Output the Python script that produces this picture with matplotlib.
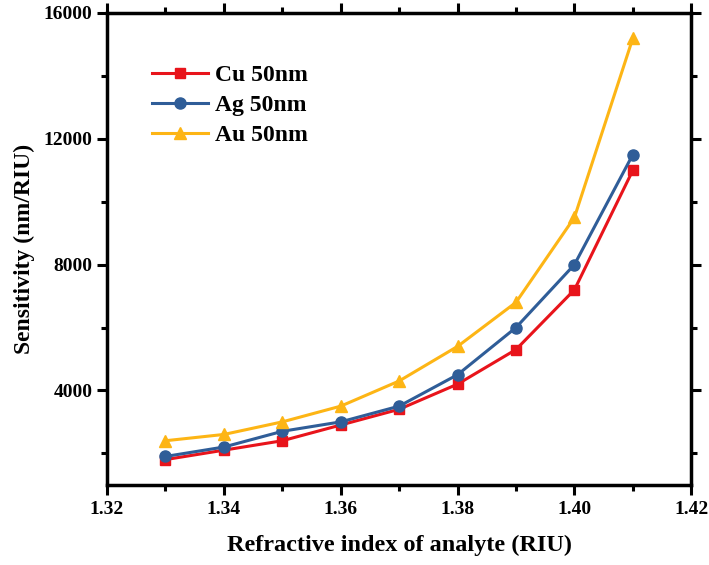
import matplotlib.pyplot as plt
from matplotlib.ticker import MultipleLocator

plt.rcParams['font.family'] = ['Liberation Serif', 'DejaVu Serif']
plt.rcParams['font.weight'] = 'bold'

# data
ri = [1.33, 1.34, 1.35, 1.36, 1.37, 1.38, 1.39, 1.40, 1.41]
cu = [1800, 2100, 2400, 2900, 3400, 4200, 5300, 7200, 11000]
ag = [1900, 2200, 2700, 3000, 3500, 4500, 6000, 8000, 11500]
au = [2400, 2600, 3000, 3500, 4300, 5400, 6800, 9500, 15200]
xticks = [1.32, 1.34, 1.36, 1.38, 1.40, 1.42]
yticks = [4000, 8000, 12000, 16000]

fig = plt.figure(figsize=(7.09, 5.65), dpi=100)
ax = fig.add_axes([0.151, 0.142, 0.824, 0.835])

ax.plot(ri, cu, color='#E8141B', marker='s', ms=7, lw=2.2, label='Cu 50nm')
ax.plot(ri, ag, color='#2F5D98', marker='o', ms=8, lw=2.2, label='Ag 50nm')
ax.plot(ri, au, color='#FDB515', marker='^', ms=8, lw=2.2, label='Au 50nm')

ax.set_xlim(1.32, 1.42)
ax.set_ylim(1000, 16000)
ax.set_xticks(xticks)
ax.set_xticklabels(['%.2f' % v for v in xticks])
ax.xaxis.set_minor_locator(MultipleLocator(0.01))
ax.set_yticks(yticks)
ax.yaxis.set_minor_locator(MultipleLocator(2000))

for s in ax.spines.values():
    s.set_linewidth(2.5)
ax.tick_params(which='both', direction='out', width=2.2, top=True, right=True,
               labelsize=14)
ax.tick_params(which='major', length=7)
ax.tick_params(which='minor', length=4)
ax.tick_params(axis='x', pad=5)
for lab in ax.get_xticklabels() + ax.get_yticklabels():
    lab.set_fontweight('bold')

ax.set_xlabel('Refractive index of analyte (RIU)', fontsize=17.5, fontweight='bold', labelpad=12)
ax.set_ylabel('Sensitivity (nm/RIU)', fontsize=17, fontweight='bold', labelpad=6)

leg = ax.legend(loc='upper left', bbox_to_anchor=(0.04, 0.935), frameon=False,
                prop={'size': 17, 'weight': 'bold'}, handlelength=2.4,
                handletextpad=0.3, labelspacing=0.35)

fig.savefig('out.png', dpi=100)
